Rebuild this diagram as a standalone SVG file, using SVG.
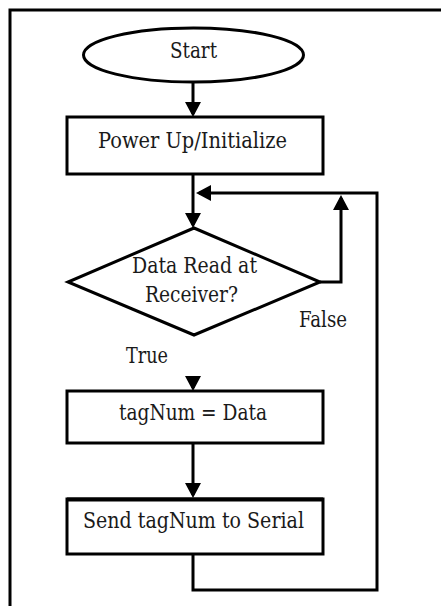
<svg xmlns="http://www.w3.org/2000/svg" width="448" height="606" viewBox="0 0 448 606">
<style>
.shape{fill:#fff;stroke:#000;stroke-width:3}
.conn{fill:none;stroke:#000;stroke-width:3}
.t{font-family:'DejaVu Serif','Liberation Serif',serif;font-stretch:condensed;font-size:21.5px;fill:#1a1a1a;text-anchor:middle}
</style>
<defs>
<marker id="arr" viewBox="0 0 15 16" refX="12" refY="8" markerWidth="15" markerHeight="16" markerUnits="userSpaceOnUse" orient="auto">
<path d="M0,0 L15,8 L0,16 z" fill="#000"/>
</marker>
</defs>
<rect width="448" height="606" fill="#fff"/>
<g id="frame">
<path d="M10,606 V10 H441" class="conn"/>
</g>
<g id="connectors">
<path d="M193,82 V114" class="conn" marker-end="url(#arr)"/>
<path d="M193,174 V225" class="conn" marker-end="url(#arr)"/>
<path d="M193,554 V590 H377 V193 H199" class="conn" marker-end="url(#arr)"/>
<path d="M320,282 H341 V198" class="conn" marker-end="url(#arr)"/>
<path d="M193,376 V388" class="conn" marker-end="url(#arr)"/>
<path d="M193,443 V495" class="conn" marker-end="url(#arr)"/>
</g>
<g id="start">
<ellipse cx="193.5" cy="55" rx="110" ry="27" class="shape"/>
<text class="t" x="193.5" y="58" textLength="47" lengthAdjust="spacingAndGlyphs">Start</text>
</g>
<g id="init">
<rect x="67" y="117" width="256" height="57" class="shape"/>
<text class="t" x="192.5" y="148" textLength="189" lengthAdjust="spacingAndGlyphs">Power Up/Initialize</text>
</g>
<g id="decision">
<polygon points="194,228 320,282 194,335 68,282" class="shape"/>
<text class="t" x="194.5" y="273" textLength="125" lengthAdjust="spacingAndGlyphs">Data Read at</text>
<text class="t" x="191.5" y="302" textLength="93" lengthAdjust="spacingAndGlyphs">Receiver?</text>
</g>
<g id="labels">
<text class="t" x="323" y="327" textLength="48" lengthAdjust="spacingAndGlyphs">False</text>
<text class="t" x="147" y="363" textLength="42" lengthAdjust="spacingAndGlyphs">True</text>
</g>
<g id="assign">
<rect x="67" y="391" width="256" height="52" class="shape"/>
<text class="t" x="193" y="420" textLength="148" lengthAdjust="spacingAndGlyphs">tagNum = Data</text>
</g>
<g id="send">
<rect x="67" y="499" width="256" height="55" class="shape"/>
<path d="M67,499.5 H323" stroke="#000" stroke-width="4"/>
<text class="t" x="193.5" y="528" textLength="221" lengthAdjust="spacingAndGlyphs">Send tagNum to Serial</text>
</g>
</svg>
